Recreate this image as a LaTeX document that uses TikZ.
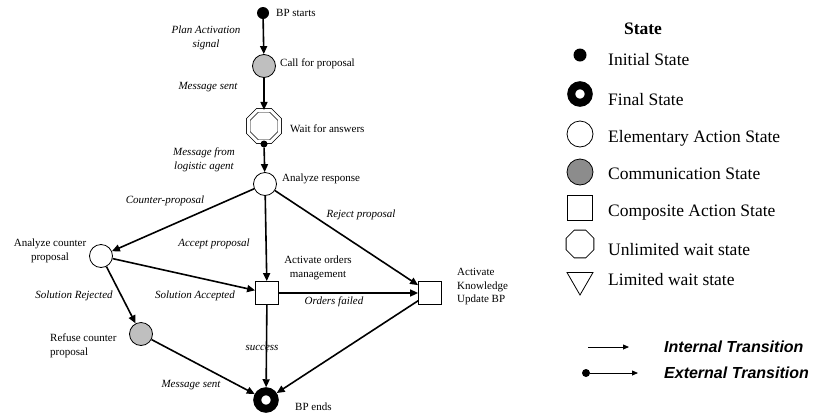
\documentclass[tikz,border=0pt]{standalone}
\usepackage{fontspec}
\setmainfont{Liberation Serif}
\newfontfamily\arialfont{Liberation Sans}
\usetikzlibrary{shapes.geometric,arrows.meta}

\tikzset{
  initst/.style={circle, fill=black, inner sep=0pt, minimum size=12pt},
  finalst/.style={circle, draw=black, line width=8pt, fill=white, inner sep=0pt, minimum size=17.5pt},
  elemst/.style={circle, draw=black, line width=0.8pt, fill=white, inner sep=0pt, minimum size=23pt},
  commst/.style={elemst, fill=black!25},
  compst/.style={rectangle, draw=black, line width=0.8pt, fill=white, inner sep=0pt, minimum size=23pt},
  waitst/.style={regular polygon, regular polygon sides=8, draw=black, line width=0.7pt, double, double distance=3pt, inner sep=0pt, minimum size=34pt},
  extdot/.style={circle, fill=black, inner sep=0pt, minimum size=7pt},
  trans/.style={line width=1.6pt, -{Triangle[length=8pt,width=7pt]}},
  lbl/.style={font=\fontsize{11}{13.5}\selectfont, align=center, inner sep=0pt},
  elbl/.style={lbl, font=\fontsize{11}{13.5}\selectfont\itshape},
  legtxt/.style={font=\fontsize{17.5}{20}\selectfont, anchor=west, inner sep=0pt},
  legtrans/.style={font=\arialfont\fontsize{16}{18}\selectfont\bfseries\itshape, anchor=west, inner sep=0pt},
  legarrow/.style={line width=0.8pt, -{Triangle[length=6pt,width=5pt]}}
}

\begin{document}
\begin{tikzpicture}[x=1pt, y=-1pt]
      \useasboundingbox (0,0) rectangle (814,413);
      %
      \node[initst] (BPS) at (263,13) {};
      \node[commst] (CFP) at (264,66) {};
      \node[waitst] (WFA) at (264,126) {};
      \node[extdot] (WFAdot) at (264,144) {};
      \node[elemst] (AR) at (265,184) {};
      \node[elemst] (ACP) at (101,256) {};
      \node[compst] (AOM) at (267,293) {};
      \node[compst] (AKU) at (430,293) {};
      \node[commst] (RCP) at (141,334) {};
      \node[finalst] (BPE) at (266,400) {};
      %
      \draw[trans] (BPS) -- (CFP);
      \draw[trans] (CFP) -- (WFA);
      \draw[trans] (WFAdot) -- (AR);
      \draw[trans] (AR) -- (ACP);
      \draw[trans] (AR) -- (AOM);
      \draw[trans] (AR) -- (AKU);
      \draw[trans] (ACP) -- (AOM);
      \draw[trans] (ACP) -- (RCP);
      \draw[trans] (AOM) -- (AKU);
      \draw[trans] (AOM) -- (BPE);
      \draw[trans] (RCP) -- (BPE);
      \draw[trans] (AKU) -- (BPE);
      %
      \node[lbl, anchor=west] (tBPS) at (276,13) {BP starts};
      \node[elbl] (tPAS) at (206,38) {Plan Activation\\signal};
      \node[lbl, anchor=west] (tCFP) at (280,64) {Call for proposal};
      \node[elbl] (tMS1) at (208,87) {Message sent};
      \node[lbl, anchor=west] (tWFA) at (290,129) {Wait for answers};
      \node[elbl] (tMFL) at (204,160) {Message from\\logistic agent};
      \node[lbl, anchor=west] (tAR) at (282,179) {Analyze response};
      \node[elbl] (tCP) at (165,201) {Counter-proposal};
      \node[elbl] (tRP) at (361,215) {Reject proposal};
      \node[elbl] (tAP) at (214,244) {Accept proposal};
      \node[lbl] (tAOM) at (318,268) {Activate orders\\management};
      \node[lbl] (tACP) at (50,251) {Analyze counter\\proposal};
      \node[elbl] (tSR) at (74,296) {Solution Rejected};
      \node[elbl] (tSA) at (195,296) {Solution Accepted};
      \node[elbl] (tOF) at (334,302) {Orders failed};
      \node[lbl, anchor=west, align=left] (tAKU) at (457,287) {Activate\\Knowledge\\Update BP};
      \node[lbl, anchor=west, align=left] (tRCP) at (50,346) {Refuse counter\\proposal};
      \node[elbl] (tSU) at (262,348) {success};
      \node[elbl] (tMS2) at (191,385) {Message sent};
      \node[lbl, anchor=west] (tBPE) at (295,407) {BP ends};
      %
      \node[font=\fontsize{17.5}{20}\selectfont\bfseries, inner sep=0pt] (LState) at (643,29) {State};
      \node[initst, minimum size=13pt] (L1) at (580,55) {};
      \node[finalst] (L2) at (580,94) {};
      \node[elemst, minimum size=26pt] (L3) at (580,134) {};
      \node[elemst, minimum size=26pt, fill=black!45] (L4) at (580,172) {};
      \node[compst, minimum size=25pt] (L5) at (580,208) {};
      \node[regular polygon, regular polygon sides=8, draw=black, line width=0.8pt, inner sep=0pt, minimum size=30pt] (L6) at (580,244) {};
      \node[regular polygon, regular polygon sides=3, shape border rotate=180, draw=black, line width=0.8pt, inner sep=0pt, minimum size=30pt] (L7) at (580,280) {};
      %
      \node[legtxt] (tL1) at (608,60) {Initial State};
      \node[legtxt] (tL2) at (608,100) {Final State};
      \node[legtxt] (tL3) at (608,138) {Elementary Action State};
      \node[legtxt] (tL4) at (608,174) {Communication State};
      \node[legtxt] (tL5) at (608,213) {Composite Action State};
      \node[legtxt] (tL6) at (608,250) {Unlimited wait state};
      \node[legtxt] (tL7) at (608,280) {Limited wait state};
      %
      \coordinate (IT1) at (588,347);
      \coordinate (IT2) at (629,347);
      \draw[legarrow] (IT1) -- (IT2);
      \node[circle, fill=black, inner sep=0pt, minimum size=8pt] (ET1) at (586,373) {};
      \coordinate (ET2) at (638,373);
      \draw[legarrow] (ET1) -- (ET2);
      \node[legtrans] (tIT) at (664,347) {Internal Transition};
      \node[legtrans] (tET) at (664,373) {External Transition};
    \end{tikzpicture}
\end{document}
